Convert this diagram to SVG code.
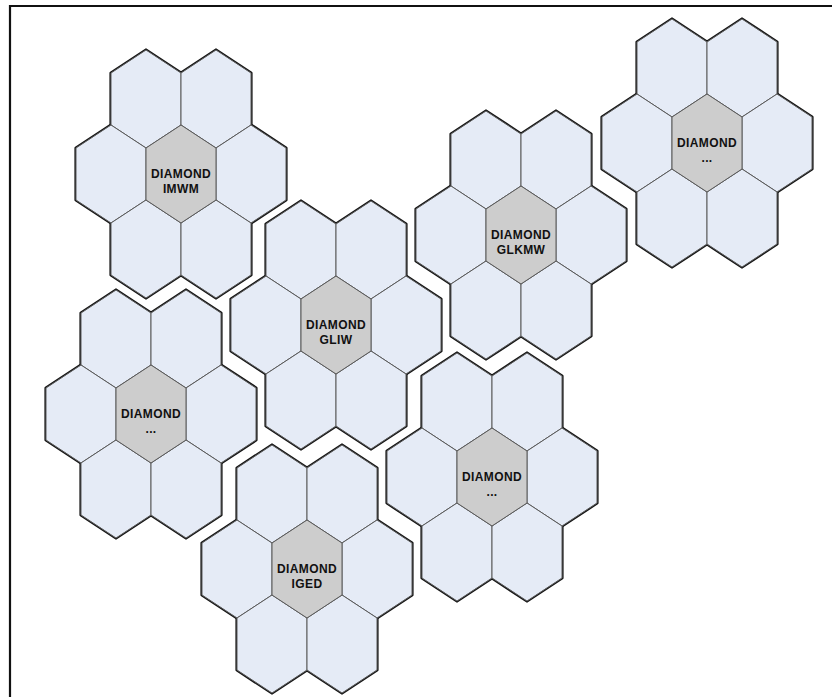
<svg xmlns="http://www.w3.org/2000/svg" xmlns:xlink="http://www.w3.org/1999/xlink" width="832" height="697" viewBox="0 0 832 697">
<style>
.bg{fill:#ffffff}
.frame{stroke:#111;stroke-width:2.2;fill:none}
.sh{fill:#e5ebf6;stroke:#161616;stroke-width:3.2;stroke-linejoin:round}
.o{fill:#e5ebf6;stroke:#5a5a5a;stroke-width:1}
.c{fill:#cdcdcd;stroke:#5a5a5a;stroke-width:1}
.t{font-family:"Liberation Sans",Arial,sans-serif;font-weight:bold;font-size:12px;fill:#111;text-anchor:middle;letter-spacing:0.4px}
</style>
<defs>
<path id="hex" d="M0,-49 L35,-26 L35,26 L0,49 L-35,26 L-35,-26 Z"/>
<g id="flowerShadow">
<use xlink:href="#hex" href="#hex" class="sh" x="-35" y="-75"/>
<use xlink:href="#hex" href="#hex" class="sh" x="35" y="-75"/>
<use xlink:href="#hex" href="#hex" class="sh" x="-70" y="0"/>
<use xlink:href="#hex" href="#hex" class="sh" x="70" y="0"/>
<use xlink:href="#hex" href="#hex" class="sh" x="-35" y="75"/>
<use xlink:href="#hex" href="#hex" class="sh" x="35" y="75"/>
</g>
<g id="flower">
<use xlink:href="#flowerShadow" href="#flowerShadow"/>
<use xlink:href="#hex" href="#hex" class="o" x="-35" y="-75"/>
<use xlink:href="#hex" href="#hex" class="o" x="35" y="-75"/>
<use xlink:href="#hex" href="#hex" class="o" x="-70" y="0"/>
<use xlink:href="#hex" href="#hex" class="o" x="70" y="0"/>
<use xlink:href="#hex" href="#hex" class="o" x="-35" y="75"/>
<use xlink:href="#hex" href="#hex" class="o" x="35" y="75"/>
<use xlink:href="#hex" href="#hex" class="c" x="0" y="0"/>
</g>
</defs>
<rect class="bg" x="0" y="0" width="832" height="697"/>
<g id="frame">
<line class="frame" x1="9" y1="6" x2="832" y2="6"/>
<line class="frame" x1="10" y1="5" x2="10" y2="697"/>
</g>
<g id="cluster-imwm" transform="translate(181,174)">
<use xlink:href="#flower" href="#flower"/>
<text class="t" x="0" y="4">DIAMOND</text>
<text class="t" x="0" y="18.5">IMWM</text>
</g>
<g id="cluster-glkmw" transform="translate(521,235)">
<use xlink:href="#flower" href="#flower"/>
<text class="t" x="0" y="4">DIAMOND</text>
<text class="t" x="0" y="18.5">GLKMW</text>
</g>
<g id="cluster-topright" transform="translate(707,143)">
<use xlink:href="#flower" href="#flower"/>
<text class="t" x="0" y="4">DIAMOND</text>
<text class="t" x="0" y="19">...</text>
</g>
<g id="cluster-gliw" transform="translate(336,325)">
<use xlink:href="#flower" href="#flower"/>
<text class="t" x="0" y="4">DIAMOND</text>
<text class="t" x="0" y="18.5">GLIW</text>
</g>
<g id="cluster-left" transform="translate(151,414)">
<use xlink:href="#flower" href="#flower"/>
<text class="t" x="0" y="4">DIAMOND</text>
<text class="t" x="0" y="19">...</text>
</g>
<g id="cluster-mid" transform="translate(492,477)">
<use xlink:href="#flower" href="#flower"/>
<text class="t" x="0" y="4">DIAMOND</text>
<text class="t" x="0" y="19">...</text>
</g>
<g id="cluster-iged" transform="translate(307,569)">
<use xlink:href="#flower" href="#flower"/>
<text class="t" x="0" y="4">DIAMOND</text>
<text class="t" x="0" y="18.5">IGED</text>
</g>
</svg>
